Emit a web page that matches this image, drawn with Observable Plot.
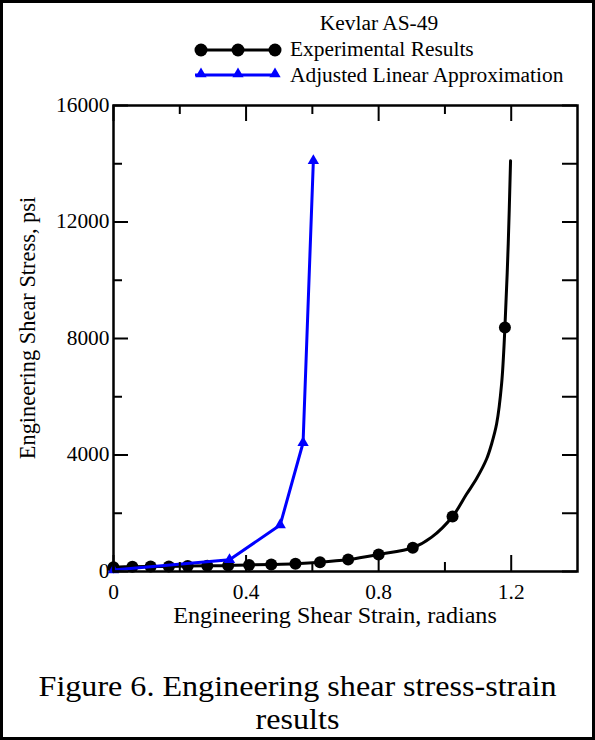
<!DOCTYPE html>
<html><head><meta charset="utf-8">
<script src="https://cdn.jsdelivr.net/npm/d3@7"></script>
<script src="https://cdn.jsdelivr.net/npm/@observablehq/plot@0.6"></script>
<style>html,body{margin:0;padding:0;background:#fff;} #chart{width:595px;height:740px;}</style>
</head><body><div id="chart"></div>
<script>
// ---- data ----
const expMarkerStrain = [0, 0.057, 0.112, 0.167, 0.224, 0.283, 0.346, 0.409, 0.476, 0.549, 0.623, 0.708, 0.800, 0.903, 1.023, 1.181];
const expMarkerStress = [150, 165, 170, 175, 185, 195, 205, 225, 240, 265, 315, 410, 585, 815, 1890, 8380];
const expCurveStrain = [0, 0.057, 0.112, 0.167, 0.224, 0.283, 0.346, 0.409, 0.476, 0.549, 0.623, 0.708, 0.800, 0.903, 0.960, 1.023, 1.065, 1.096, 1.126, 1.141, 1.156, 1.171, 1.181, 1.191, 1.198];
const expCurveStress = [150, 165, 170, 175, 185, 195, 205, 225, 240, 265, 315, 410, 585, 815, 1180, 1890, 2650, 3200, 3870, 4385, 5070, 6440, 8380, 11250, 14100];
const linStrain = [0, 0.350, 0.503, 0.572, 0.603];
const linStress = [50, 400, 1600, 4420, 14100];
const xLabelTicks = [0, 0.4, 0.8, 1.2];
const xMinorTicks = [0.2, 0.6, 1.0];
const yLabelTicks = [0, 4000, 8000, 12000, 16000];
const yMinorTicks = [2000, 6000, 10000, 14000];
const legendTitle = "Kevlar AS-49";
const seriesNames = ["Experimental Results", "Adjusted Linear Approximation"];
const xLabel = "Engineering Shear Strain, radians";
const yLabel = "Engineering Shear Stress, psi";
const captionLines = ["Figure 6. Engineering shear stress-strain", "results"];

const markers = expMarkerStrain.map((x, i) => ({x, y: expMarkerStress[i]}));
const curve = expCurveStrain.map((x, i) => ({x, y: expCurveStress[i]}));
const lin = linStrain.map((x, i) => ({x, y: linStress[i]}));

const W = 595, H = 740, mL = 113, mR = 18, mT = 105, mB = 169;
const fH = H - mT - mB, fW = W - mL - mR;
const FONT = "'Liberation Serif', 'Times New Roman', serif";
const BLUE = "#0000ff";

const svg = Plot.plot({
  width: W, height: H,
  marginLeft: mL, marginRight: mR, marginTop: mT, marginBottom: mB,
  style: {fontFamily: FONT, fontSize: "20px", background: "white", color: "black"},
  x: {domain: [0, 1.4]},
  y: {domain: [0, 16000]},
  marks: [
    Plot.line(curve, {x: "x", y: "y", stroke: "black", strokeWidth: 3, curve: "catmull-rom"}),
    Plot.dot(markers, {x: "x", y: "y", r: 6, fill: "black"}),
    Plot.line(lin, {x: "x", y: "y", stroke: BLUE, strokeWidth: 3}),
    Plot.dot(lin, {x: "x", y: "y", symbol: "triangle", r: 4.2, fill: BLUE}),
    // inward ticks
    Plot.tickX(xLabelTicks, {x: d => d, insetTop: fH - 16, stroke: "black", strokeWidth: 2}),
    Plot.tickX(xMinorTicks, {x: d => d, insetTop: fH - 9, stroke: "black", strokeWidth: 2}),
    Plot.tickX(xLabelTicks, {x: d => d, insetBottom: fH - 16, stroke: "black", strokeWidth: 2}),
    Plot.tickX(xMinorTicks, {x: d => d, insetBottom: fH - 9, stroke: "black", strokeWidth: 2}),
    Plot.tickY(yLabelTicks, {y: d => d, insetRight: fW - 15, stroke: "black", strokeWidth: 2}),
    Plot.tickY(yMinorTicks, {y: d => d, insetRight: fW - 9, stroke: "black", strokeWidth: 2}),
    Plot.tickY(yLabelTicks.concat(yMinorTicks), {y: d => d, insetLeft: fW - 15, stroke: "black", strokeWidth: 2}),
    Plot.axisX({ticks: xLabelTicks, tickSize: 0, tickPadding: 13, label: null, fontSize: 20, tickFormat: d3.format("~g")}),
    Plot.axisY({ticks: yLabelTicks, tickSize: 0, tickPadding: 4, label: null, fontSize: 20, tickFormat: d3.format("d")}),
    Plot.frame({stroke: "black", strokeWidth: 2.5})
  ]
});

const s = d3.select(svg);
// x-axis label
s.append("text").attr("x", 335).attr("y", 623).attr("text-anchor", "middle")
  .attr("font-size", 22.5).attr("fill", "black").text(xLabel);
// y-axis label
s.append("text").attr("class", "nostretch")
  .attr("transform", "translate(27,328) rotate(-90)")
  .attr("text-anchor", "middle").attr("dominant-baseline", "central")
  .attr("font-size", 22.4).attr("fill", "black").text(yLabel);

// legend
const lg = s.append("g").attr("text-anchor", "start").attr("fill", "black");
lg.append("text").attr("x", 379).attr("y", 30).attr("text-anchor", "middle")
  .attr("font-size", 20).text(legendTitle);
const symX = [201, 238, 275];
lg.append("line").attr("x1", 195).attr("x2", 278).attr("y1", 50).attr("y2", 50)
  .attr("stroke", "black").attr("stroke-width", 3);
symX.forEach(x => lg.append("circle").attr("cx", x).attr("cy", 50).attr("r", 6.5).attr("fill", "black"));
lg.append("text").attr("x", 290).attr("y", 56).attr("text-anchor", "start").attr("font-size", 20).text(seriesNames[0]);
lg.append("line").attr("x1", 195).attr("x2", 278).attr("y1", 75).attr("y2", 75)
  .attr("stroke", BLUE).attr("stroke-width", 3);
const tri = d3.symbol(d3.symbolTriangle, Math.PI * 4.2 * 4.2)();
symX.forEach(x => lg.append("path").attr("d", tri).attr("transform", `translate(${x},74)`).attr("fill", BLUE));
lg.append("text").attr("x", 290).attr("y", 82).attr("text-anchor", "start").attr("font-size", 20).text(seriesNames[1]);

// caption
captionLines.forEach((t, i) => s.append("text").attr("x", 297.5).attr("y", 696 + i * 33)
  .attr("text-anchor", "middle").attr("font-size", 30).attr("fill", "black").text(t));

// outer border
s.append("rect").attr("x", 1.5).attr("y", 1.5).attr("width", W - 3).attr("height", H - 3)
  .attr("fill", "none").attr("stroke", "black").attr("stroke-width", 3);

document.getElementById("chart").appendChild(svg);

// slight horizontal stretch of glyphs, as in the reference
const STRETCH = 1.07;
s.selectAll("text").each(function() {
  if (this.classList.contains("nostretch")) return;
  if (this.querySelector("tspan")) return;
  const len = this.getComputedTextLength();
  if (len > 0) {
    this.setAttribute("textLength", (len * STRETCH).toFixed(2));
    this.setAttribute("lengthAdjust", "spacingAndGlyphs");
  }
});
</script>
</body></html>
